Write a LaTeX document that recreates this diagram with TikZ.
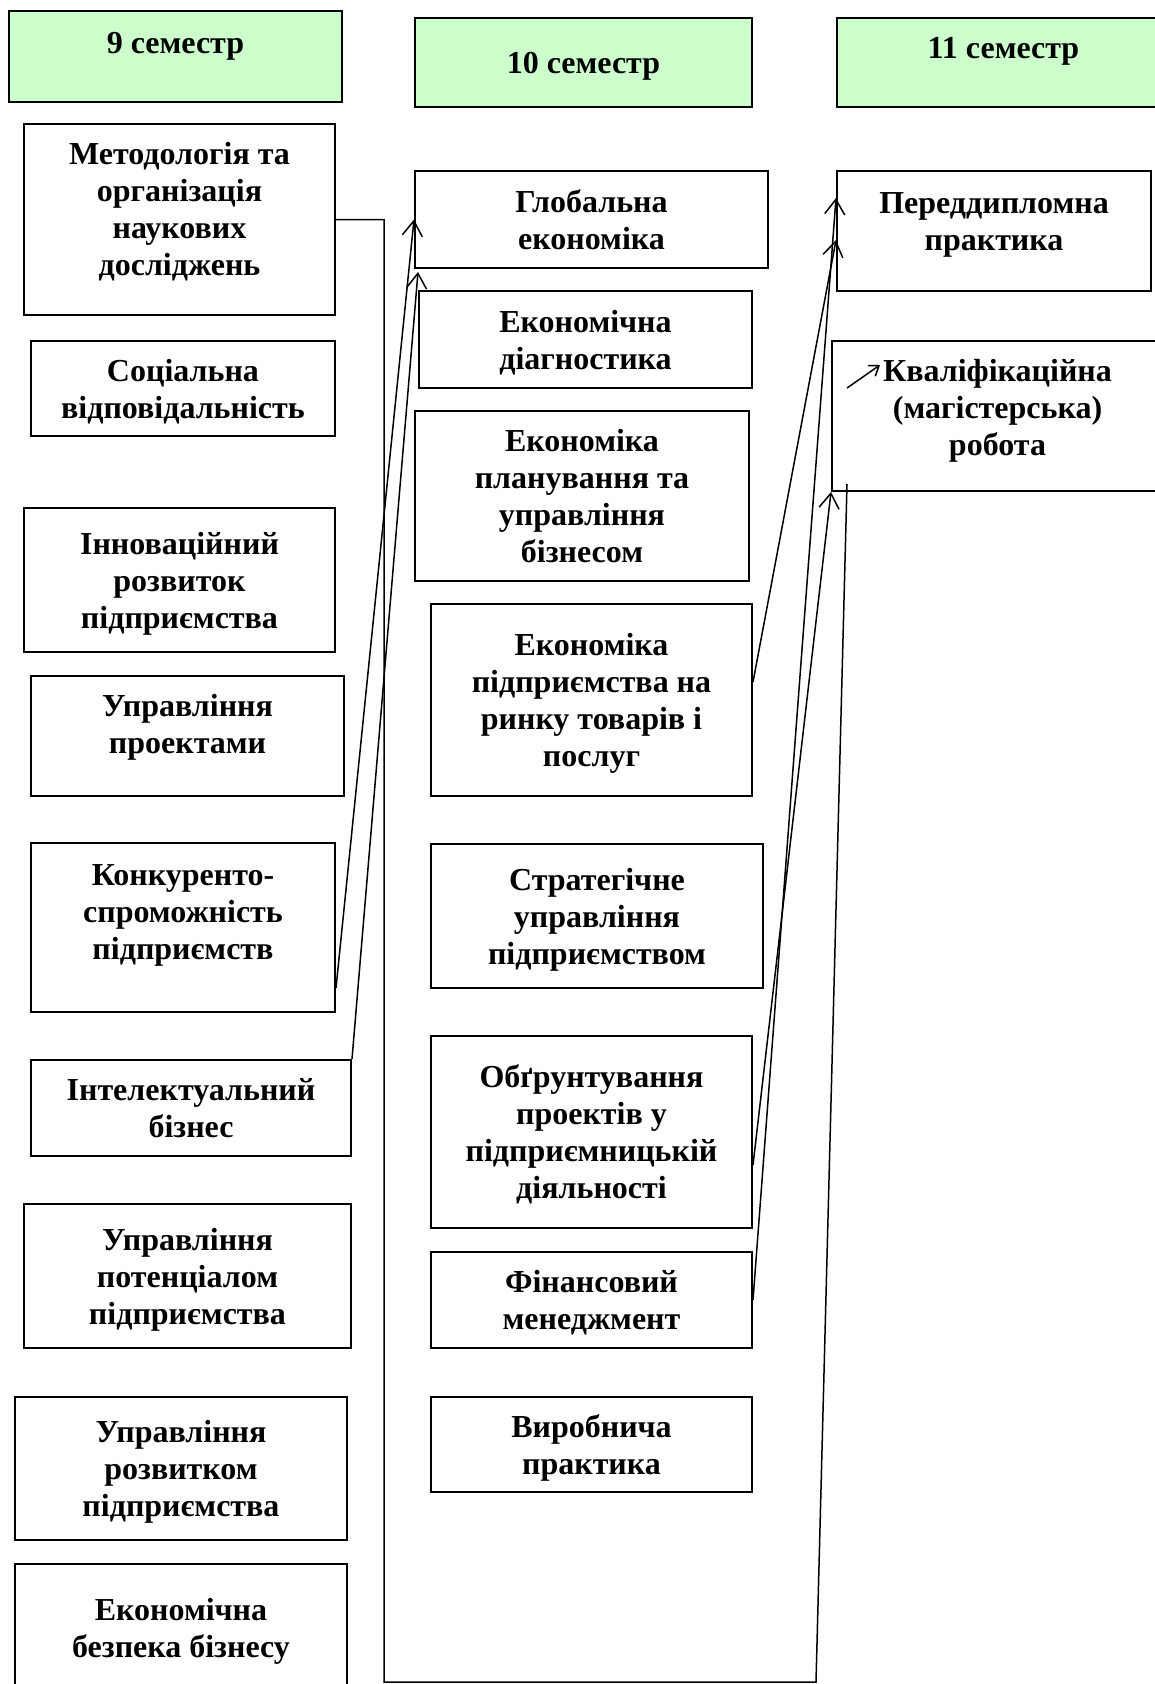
\documentclass[tikz,border=0pt]{standalone}
\usepackage{fontspec}
\setmainfont{Liberation Serif}
\usetikzlibrary{arrows.meta}
\definecolor{semgreen}{RGB}{204,255,204}
\tikzset{
	box/.style={draw, line width=2pt, align=center, inner sep=0pt, text depth=0pt,
		font=\bfseries\fontsize{32}{37}\selectfont},
	sem/.style={box, fill=semgreen},
	sz/.style 2 args={minimum width=#1, minimum height=#2},
	lift/.style={text depth=#1},
	ln/.style={line width=1.5pt},
	arr/.style={ln, -{Straight Barb[length=15pt,width=20pt]}},
}

\begin{document}
\begin{tikzpicture}[x=1pt, y=-1pt]
			%%%%% START %%%%%
			\useasboundingbox (0, 0) rectangle (1155, 1684);
			\clip (0, 0) rectangle (1155, 1684);
			
			% semesters
			\node[sem, sz={333pt}{91pt}, lift=26.3pt] (h9) at (175.5, 56.5) {9 семестр};
			\node[sem, sz={337pt}{89pt}, lift=-4pt] (h10) at (583.5, 62.5) {10 семестр};
			\node[sem, sz={333pt}{89pt}, lift=28.3pt] (h11) at (1003.5, 62.5) {11 семестр};
			
			% 9 semester
			\node[box, sz={311pt}{191pt}, lift=21.3pt] (met) at (179.5, 219.5) {Методологія та\\організація\\наукових\\досліджень};
			\node[box, sz={304pt}{95pt}] (soc) at (183, 388.5) {Соціальна\\відповідальність};
			\node[box, sz={311pt}{144pt}] (inn) at (179.5, 580) {Інноваційний\\розвиток\\підприємства};
			\node[box, sz={313pt}{120pt}, lift=23.8pt] (upr) at (187.5, 736) {Управління\\проектами};
			\node[box, sz={304pt}{169pt}, lift=30.4pt] (kon) at (183, 927.5) {Конкуренто-\\спроможність\\підприємств};
			\node[box, sz={320pt}{96pt}] (int) at (191, 1108) {Інтелектуальний\\бізнес};
			\node[box, sz={327pt}{144pt}] (pot) at (187.5, 1276) {Управління\\потенціалом\\підприємства};
			\node[box, sz={332pt}{143pt}] (roz) at (181, 1468.5) {Управління\\розвитком\\підприємства};
			\node[box, sz={332pt}{128pt}] (bez) at (181, 1628) {Економічна\\безпека бізнесу};
			
			% 10 semester
			\node[box, sz={353pt}{97pt}] (glob) at (591.5, 219.5) {Глобальна\\економіка};
			\node[box, sz={333pt}{97pt}] (diag) at (585.5, 339.5) {Економічна\\діагностика};
			\node[box, sz={334pt}{170pt}] (plan) at (582, 496) {Економіка\\планування та\\управління\\бізнесом};
			\node[box, sz={321pt}{192pt}] (rin) at (591.5, 700) {Економіка\\підприємства на\\ринку товарів і\\послуг};
			\node[box, sz={332pt}{144pt}] (str) at (597, 916) {Стратегічне\\управління\\підприємством};
			\node[box, sz={321pt}{192pt}] (obg) at (591.5, 1132) {Обґрунтування\\проектів у\\підприємницькій\\діяльності};
			\node[box, sz={321pt}{96pt}] (fin) at (591.5, 1300) {Фінансовий\\менеджмент};
			\node[box, sz={321pt}{95pt}] (vyr) at (591.5, 1444.5) {Виробнича\\практика};
			
			% 11 semester
			\node[box, sz={314pt}{120pt}, lift=19.7pt] (pred) at (994, 231) {Переддипломна\\практика};
			\node[box, sz={331pt}{150pt}, lift=17.4pt] (kval) at (997.5, 416) {Кваліфікаційна\\(магістерська)\\робота};
			
			% links 9 -> 10
			\draw[arr] ([yshift=25pt]kon.south east) -- (glob.west);
			\draw[arr] (int.north east) -- ([shift={(4pt,-3pt)}]glob.south west);
			
			% links 10 -> 11
			\draw[arr] ([yshift=18pt]rin.east) -- ([yshift=-9pt]pred.west);
			\draw[arr] (fin.east) -- ([yshift=33pt]pred.west);
			\draw[arr] ([yshift=-33pt]obg.east) -- (kval.south west);
			
			% long link 9 -> 11
			\coordinate (brkA) at (384, 1682);
			\coordinate (brkB) at (816, 1682);
			\coordinate (brkC) at (847, 484);
			\draw[ln] (met.east) -| (brkA) -- (brkB) -- (brkC);
			
			\coordinate (kvA) at (847, 388);
			\coordinate (kvB) at (880, 365);
			\draw[ln, -{Straight Barb[length=9pt,width=13pt]}] (kvA) -- (kvB);
			
			%%%%% END %%%%%
\end{tikzpicture}
\end{document}
